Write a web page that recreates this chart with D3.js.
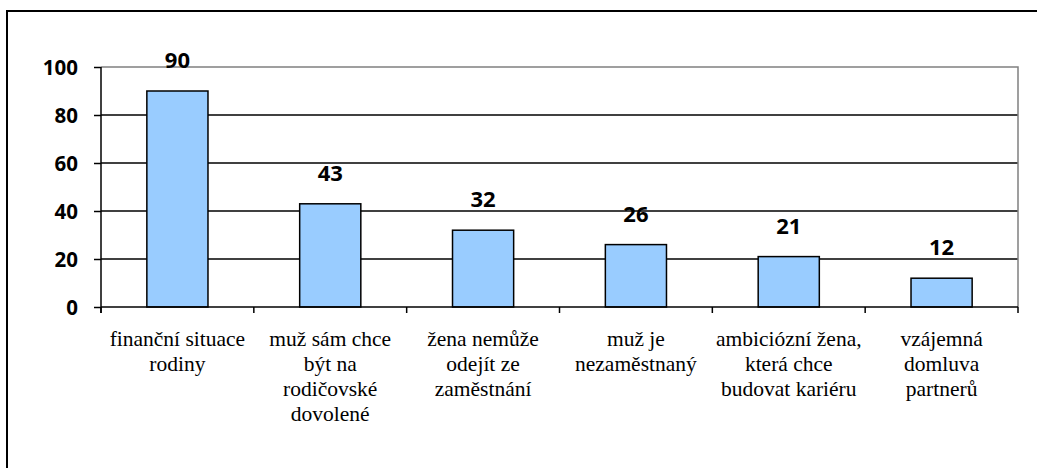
<!DOCTYPE html>
<html><head><meta charset="utf-8">
<script src="https://cdn.jsdelivr.net/npm/d3@7"></script>
<style>body{margin:0;background:#fff}svg{display:block}</style>
</head><body>
<svg id="c" width="1037" height="468"></svg>
<script>
const categories = [
  ["finanční situace","rodiny"],
  ["muž sám chce","být na","rodičovské","dovolené"],
  ["žena nemůže","odejít ze","zaměstnání"],
  ["muž je","nezaměstnaný"],
  ["ambiciózní žena,","která chce","budovat kariéru"],
  ["vzájemná","domluva","partnerů"]
];
const values = [90, 43, 32, 26, 21, 12];
const yTicks = [0, 20, 40, 60, 80, 100];

const svg = d3.select("#c");
const L = 101, R = 1018, T = 67, B = 307;
const x = d3.scaleBand().domain(d3.range(values.length)).range([L, R]).paddingInner(0.6).paddingOuter(0.3);
const xb = d3.scaleBand().domain(d3.range(values.length)).range([L, R]);
const y = d3.scaleLinear().domain([0, 100]).range([B, T]);
const numStyle = (s, fs) => s.style("font-family","\"Open Sans\"").style("font-weight","bold").style("font-size",fs+"px").attr("fill","#000");

svg.append("rect").attr("x",7).attr("y",11).attr("width",1100).attr("height",600)
  .attr("fill","none").attr("stroke","#000").attr("stroke-width",2);

svg.append("g").selectAll("line").data(yTicks.filter(d=>d>0 && d<100)).join("line")
  .attr("x1",L).attr("x2",R).attr("y1",d=>y(d)).attr("y2",d=>y(d))
  .attr("stroke","#000").attr("stroke-width",1.5);
svg.append("path").attr("d",`M${L},${y(100)}H${R}V${B}`).attr("fill","none")
  .attr("stroke","#808080").attr("stroke-width",1.5);

svg.append("g").selectAll("rect").data(values).join("rect")
  .attr("x",(d,i)=>x(i)).attr("width",x.bandwidth())
  .attr("y",d=>y(d)).attr("height",d=>B-y(d))
  .attr("fill","#99CCFF").attr("stroke","#000").attr("stroke-width",1.5);

const ya = svg.append("g").attr("transform",`translate(${L},0)`)
  .call(d3.axisLeft(y).tickValues(yTicks).tickSize(7).tickPadding(16));
ya.select(".domain").attr("stroke","#000").attr("stroke-width",1.5).attr("d",`M0,${y(100)}V${B+6}`);
ya.selectAll(".tick line").attr("stroke","#000").attr("stroke-width",1.5);
ya.selectAll(".tick text").call(numStyle, 20.5).attr("dy","0.36em");

const xa = svg.append("g").attr("transform",`translate(0,${B})`);
xa.append("line").attr("x1",L).attr("x2",R).attr("stroke","#000").attr("stroke-width",1.5);
xa.selectAll("line.t").data(d3.range(values.length+1)).join("line").attr("class","t")
  .attr("x1",i=>L+i*xb.step()).attr("x2",i=>L+i*xb.step()).attr("y1",0).attr("y2",6)
  .attr("stroke","#000").attr("stroke-width",1.5);

const cl = svg.append("g").selectAll("text").data(categories).join("text")
  .attr("x",(d,i)=>xb(i)+xb.bandwidth()/2).attr("y",346)
  .attr("text-anchor","middle")
  .style("font-family","\"Liberation Serif\"").style("font-size","21.5px").attr("fill","#000");
cl.selectAll("tspan").data(d=>d).join("tspan")
  .attr("x",function(){return this.parentNode.getAttribute("x");})
  .attr("dy",(d,j)=>j===0?0:25).text(d=>d);

svg.append("g").selectAll("text").data(values).join("text")
  .call(numStyle, 22)
  .attr("x",(d,i)=>x(i)+x.bandwidth()/2).attr("y",d=>y(d)-23)
  .attr("text-anchor","middle").text(d=>d);
</script>
</body></html>
